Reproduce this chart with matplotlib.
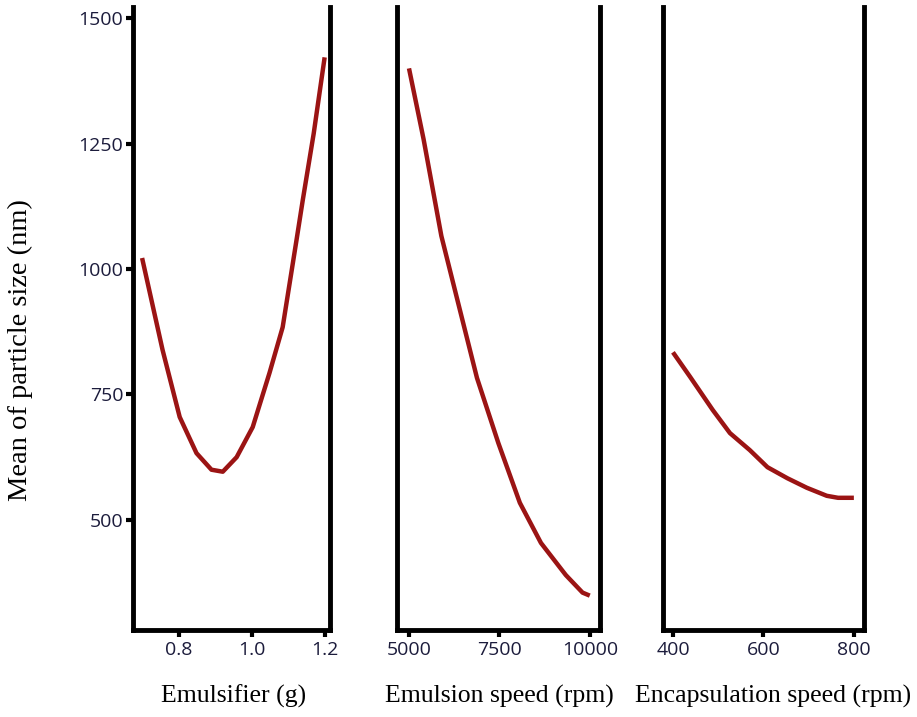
import numpy as np
import matplotlib.pyplot as plt

# Datos (media del tamaño de partícula, nm)
emulsifier_g = [0.70, 0.756, 0.803, 0.849, 0.890, 0.921, 0.959, 1.003, 1.049, 1.085, 1.123, 1.140, 1.170, 1.200]
size_emulsifier = [1022, 839, 705, 633, 600, 596, 625, 685, 793, 884, 1058, 1137, 1270, 1422]

emulsion_rpm = [5000, 5403, 5895, 6340, 6880, 7472, 8066, 8650, 9337, 9800, 10000]
size_emulsion = [1400, 1259, 1066, 938, 783, 653, 534, 454, 390, 355, 349]

encaps_rpm = [400, 438, 488, 526, 570, 609, 653, 696, 740, 765, 800]
size_encaps = [834, 785, 719, 673, 639, 605, 583, 564, 548, 544, 544]

panels = [
    (emulsifier_g, size_emulsifier, 'Emulsifier (g)', [0.8, 1.0, 1.2], ['0.8', '1.0', '1.2'], (0.675, 1.215)),
    (emulsion_rpm, size_emulsion, 'Emulsion speed (rpm)', [5000, 7500, 10000], ['5000', '7500', '10000'], (4670, 10275)),
    (encaps_rpm, size_encaps, 'Encapsulation speed (rpm)', [400, 600, 800], ['400', '600', '800'], (378, 822)),
]
lefts = [0.145, 0.433, 0.723]
widths = [0.215, 0.221, 0.219]
label_x = [0.508, 0.507, 0.547]

fig = plt.figure(figsize=(9.17, 7.17), dpi=100)
tick_color = '#1c1c3c'

for i, (x, y, label, ticks, ticklabels, xlim) in enumerate(panels):
    ax = fig.add_axes([lefts[i], 0.121, widths[i], 0.869])
    ax.plot(x, y, color='#9b1414', linewidth=3.2, solid_capstyle='butt', solid_joinstyle='round')
    ax.set_xlim(*xlim)
    ax.set_ylim(280, 1522)
    ax.spines['top'].set_visible(False)
    for s in ['left', 'right', 'bottom']:
        ax.spines[s].set_linewidth(3.5)
        ax.spines[s].set_color('black')
    ax.set_xticks(ticks)
    ax.set_xticklabels(ticklabels, family='Open Sans')
    ax.tick_params(axis='x', length=5, width=3, colors='black', labelcolor=tick_color,
                   labelsize=14, pad=3)
    if i == 0:
        ax.set_yticks([500, 750, 1000, 1250, 1500])
        ax.set_yticklabels(['500', '750', '1000', '1250', '1500'], family='Open Sans')
        ax.tick_params(axis='y', length=5, width=3, colors='black', labelcolor=tick_color,
                       labelsize=14, pad=2)
        ax.set_ylabel('Mean of particle size (nm)', family='Liberation Serif', fontsize=20.5)
        ax.yaxis.set_label_coords(-0.508, 0.449)
    else:
        ax.set_yticks([])
    ax.set_xlabel(label, family='Liberation Serif', fontsize=18.5)
    ax.xaxis.set_label_coords(label_x[i], -0.088)

plt.savefig('out.png', dpi=100)
